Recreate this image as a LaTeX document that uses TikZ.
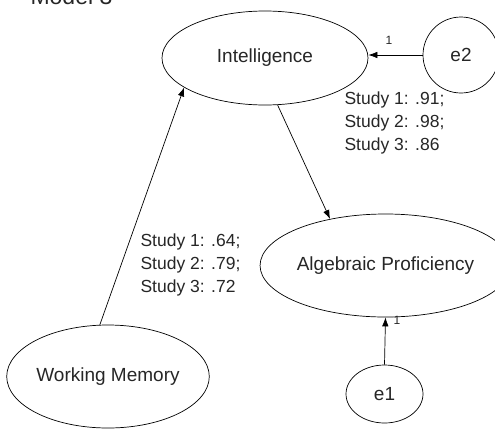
\documentclass[tikz,border=0pt]{standalone}
\usepackage{fontspec}
\setmainfont{Liberation Sans}
\usetikzlibrary{shapes.geometric}
\usetikzlibrary{arrows.meta}
\begin{document}
\begin{tikzpicture}[
x=1pt,y=-1pt,
every node/.style={text=black!85},
var/.style={draw,ellipse,inner sep=0pt,line width=0.7pt,font=\fontsize{19}{22}\selectfont},
lbl/.style={align=left,anchor=west,font=\fontsize{17.5}{23}\selectfont},
one/.style={font=\fontsize{12}{14}\selectfont},
-->/.style={-{Latex[length=9pt,width=6.5pt]},line width=0.7pt},
]
\useasboundingbox (0,0) rectangle (495,429);
\node[anchor=base west,font=\fontsize{23}{26}\selectfont] (title) at (27,4) {Model 3};
\node[var,minimum width=206pt,minimum height=94pt] (intel) at (265,58) {Intelligence};
\node[var,minimum width=207pt,minimum height=103pt] (alg) at (385.5,265.5) {Algebraic Proficiency};
\node[var,minimum width=202pt,minimum height=103pt] (wm) at (108,376.5) {Working Memory};
\node[var,minimum width=76pt,minimum height=76pt] (e2) at (461,55) {e2};
\node[var,minimum width=77pt,minimum height=58pt] (e1) at (384.5,394) {e1};
\node[lbl] (r1) at (341,123) {Study 1: .91;\\Study 2: .98;\\Study 3: .86};
\node[lbl] (r2) at (137,265) {Study 1: .64;\\Study 2: .79;\\Study 3: .72};
\draw[-->] (e2.west) -- (e2.west -| intel.east);
\node[one] (o2) at (389,40) {1};
\draw[-->] (e1.north) -- (alg.south);
\node[one] (o1) at (397,320) {1};
\draw[-->] (wm.99) -- (intel.200);
\draw[-->] (intel.285) -- (alg.140);
\end{tikzpicture}
\end{document}
